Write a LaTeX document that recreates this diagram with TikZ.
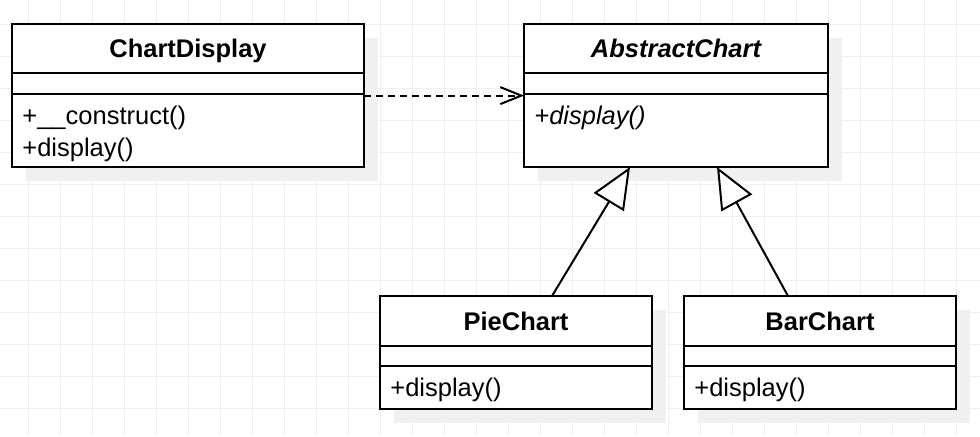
\documentclass[tikz,border=0pt]{standalone}
\usepackage{fontspec}
\setmainfont{Liberation Sans}
\usetikzlibrary{positioning,arrows.meta,shadows}

\definecolor{UmlGridLine}{HTML}{EFEFEF}
\definecolor{UmlShadow}{HTML}{F0F0F0}

\begin{document}
\begin{tikzpicture}[x=0.5pt,y=-0.5pt,
    umlfont/.style={font=\fontsize{12.75}{16}\selectfont},
    classpart/.style={draw,line width=1pt,fill=white,outer sep=0pt,inner sep=0pt,
      general shadow={fill=UmlShadow,shadow xshift=7pt,shadow yshift=-7pt}},
    classhead/.style={classpart,font=\fontsize{12.75}{16}\selectfont\bfseries,
      text height=9.3pt,text depth=0pt},
    methods/.style={umlfont,anchor=north west,align=left,inner xsep=5pt,inner ysep=6pt},
    realizes/.style={line width=1pt,dash pattern=on 3.5pt off 2.5pt,
      -{Straight Barb[length=10.5pt,width=8.5pt]}},
    extends/.style={line width=1pt,-{Triangle[open,fill=white,length=20.5pt,width=17.5pt]}}]
    \useasboundingbox (0,0) rectangle (980,436);
    % background grid
    \foreach \i in {0,...,29}
      \draw[UmlGridLine,line width=0.5pt] ({28.5+32*\i},0) -- ({28.5+32*\i},436);
    \foreach \j in {0,...,12}
      \draw[UmlGridLine,line width=0.5pt] (0,{24.3+32*\j}) -- (980,{24.3+32*\j});

    % ChartDisplay
    \node[classhead,minimum width=176pt,minimum height=24.5pt,anchor=north west] (cdh) at (12,24) {ChartDisplay};
    \node[classpart,minimum width=176pt,minimum height=10.5pt,below=0pt of cdh] (cda) {};
    \node[classpart,minimum width=176pt,minimum height=36.5pt,below=0pt of cda] (cdm) {};
    \node[methods] (cdt) at (cdm.north west) {+\_\_construct()\\+display()};

    % AbstractChart
    \node[classhead,minimum width=152pt,minimum height=24.5pt,anchor=north west] (ach) at (524,24) {\itshape AbstractChart};
    \node[classpart,minimum width=152pt,minimum height=10.5pt,below=0pt of ach] (aca) {};
    \node[classpart,minimum width=152pt,minimum height=36.5pt,below=0pt of aca] (acm) {};
    \node[methods] (act) at (acm.north west) {\itshape +display()};

    % PieChart
    \node[classhead,minimum width=136pt,minimum height=25pt,anchor=north west] (pch) at (380,296) {PieChart};
    \node[classpart,minimum width=136pt,minimum height=10pt,below=0pt of pch] (pca) {};
    \node[classpart,minimum width=136pt,minimum height=21.5pt,below=0pt of pca] (pcm) {};
    \node[methods] (pct) at (pcm.north west) {+display()};

    % BarChart
    \node[classhead,minimum width=136pt,minimum height=25pt,anchor=north west] (bch) at (684,296) {BarChart};
    \node[classpart,minimum width=136pt,minimum height=10pt,below=0pt of bch] (bca) {};
    \node[classpart,minimum width=136pt,minimum height=21.5pt,below=0pt of bca] (bcm) {};
    \node[methods] (bct) at (bcm.north west) {+display()};

    % relations
    \draw[realizes] ([yshift=-0.8pt]cdm.north east) -- ([yshift=-0.8pt]acm.north west);
    \draw[extends] ([xshift=18pt]pch.north) -- ([xshift=-23pt]acm.south);
    \draw[extends] ([xshift=-16pt]bch.north) -- ([xshift=20.5pt]acm.south);
  \end{tikzpicture}
\end{document}
